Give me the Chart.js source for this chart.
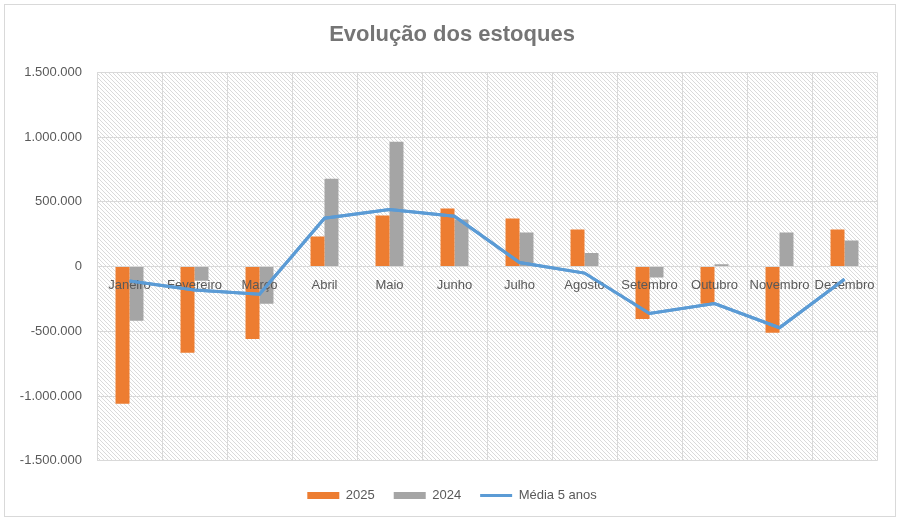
<!DOCTYPE html>
<html>
<head>
<meta charset="utf-8">
<script src="https://cdn.jsdelivr.net/npm/chart.js@4"></script>
<style>
  html, body { margin: 0; padding: 0; background: #fff; }
  #wrap { width: 900px; height: 524px; position: relative; }
</style>
</head>
<body>
<div id="wrap"><canvas id="chart"></canvas></div>
<script>
const meses = ["Janeiro", "Fevereiro", "Março", "Abril", "Maio", "Junho",
  "Julho", "Agosto", "Setembro", "Outubro", "Novembro", "Dezembro"];
const estoque2025 = [-1060000, -665000, -560000, 232000, 395000, 448000,
  372000, 287000, -405000, -287000, -511000, 287000];
const estoque2024 = [-418000, -110000, -287000, 679000, 964000, 364000,
  264000, 105000, -85000, 18000, 264000, 202000];
const media5anos = [-111000, -180000, -213000, 374000, 441000, 389000,
  31000, -50000, -362000, -285000, -472000, -98000];

const cinzaTexto = "#595959";
const cinzaGrade = "#D9D9D9";

Chart.defaults.font.family = "'Liberation Sans', Arial, sans-serif";
Chart.defaults.color = cinzaTexto;

// hachura diagonal do fundo da área do gráfico
const tile = document.createElement("canvas");
tile.width = 4;
tile.height = 4;
const tctx = tile.getContext("2d");
tctx.fillStyle = "#fff";
tctx.fillRect(0, 0, 4, 4);
tctx.fillStyle = "#dadada";
for (let i = 0; i < 4; i++) tctx.fillRect(i, i, 1, 1);

const fundo = {
  id: "fundo",
  beforeDraw(chart) {
    const { ctx, chartArea: a } = chart;
    ctx.save();
    ctx.fillStyle = "#fff";
    ctx.fillRect(0, 0, chart.width, chart.height);
    ctx.fillStyle = ctx.createPattern(tile, "repeat");
    ctx.fillRect(a.left, a.top, a.right - a.left, a.bottom - a.top);
    ctx.strokeStyle = cinzaGrade;
    ctx.lineWidth = 1;
    ctx.strokeRect(4.5, 4.5, 891, 512);
    ctx.restore();
  },
  // a linha da média fica por cima dos rótulos dos meses
  afterDraw(chart) {
    chart.getDatasetMeta(2).controller.draw();
  }
};

function formatar(v) {
  const s = Math.abs(v).toString().replace(/\B(?=(\d{3})+(?!\d))/g, ".");
  return (v < 0 ? "-" : "") + s;
}

new Chart(document.getElementById("chart"), {
  type: "bar",
  data: {
    labels: meses,
    datasets: [
      {
        label: "2025",
        data: estoque2025,
        backgroundColor: "#ED7D31",
        pointStyle: "rect",
      },
      {
        label: "2024",
        data: estoque2024,
        backgroundColor: "#A5A5A5",
        pointStyle: "rect",
      },
      {
        type: "line",
        label: "Média 5 anos",
        data: media5anos,
        borderColor: "#5B9BD5",
        backgroundColor: "#5B9BD5",
        borderWidth: 3,
        pointRadius: 0,
        pointStyle: "line",
        tension: 0,
        order: -1,
      },
    ],
  },
  options: {
    responsive: true,
    maintainAspectRatio: false,
    animation: false,
    datasets: {
      bar: {
        barPercentage: 1,
        categoryPercentage: 0.43,
      },
    },
    layout: {
      padding: { top: 0, left: 18, right: 14, bottom: 12 },
    },
    plugins: {
      title: {
        display: true,
        text: "Evolução dos estoques",
        color: "#757575",
        font: { size: 22, weight: "bold" },
        padding: { top: 22, bottom: 24 },
      },
      legend: {
        position: "bottom",
        title: {
          display: true,
          text: " ",
          font: { size: 1 },
          padding: { top: 0, bottom: 8 },
        },
        labels: {
          usePointStyle: true,
          pointStyleWidth: 32,
          boxHeight: 7,
          padding: 19,
          font: { size: 13 },
          color: cinzaTexto,
          sort: (a, b) => a.datasetIndex - b.datasetIndex,
        },
      },
      tooltip: { enabled: false },
    },
    scales: {
      x: {
        position: { y: 0 },
        grid: {
          offset: true,
          color: cinzaGrade,
          drawTicks: false,
        },
        border: { color: cinzaGrade },
        ticks: {
          z: 1,
          padding: 11,
          maxRotation: 0,
          autoSkip: false,
          font: { size: 13 },
        },
      },
      y: {
        min: -1500000,
        max: 1500000,
        grid: {
          color: cinzaGrade,
          drawTicks: false,
        },
        border: { color: cinzaGrade },
        ticks: {
          stepSize: 500000,
          padding: 15,
          font: { size: 13 },
          callback: (v) => formatar(v),
        },
        afterFit: (s) => { s.width = 79; },
      },
      // eixo vazio só para reservar a margem direita
      folga: {
        position: "right",
        grid: { display: false },
        border: { display: false },
        ticks: { display: false },
        afterFit: (s) => { s.width = 9; },
      },
    },
  },
  plugins: [fundo],
});
</script>
</body>
</html>
